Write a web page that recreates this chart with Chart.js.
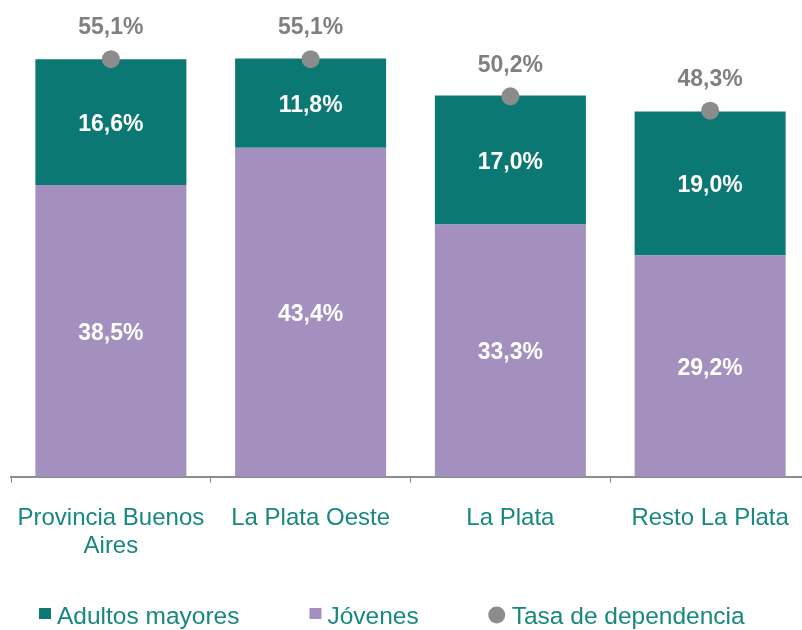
<!DOCTYPE html>
<html>
<head>
<meta charset="utf-8">
<script src="https://cdn.jsdelivr.net/npm/chart.js@4.4.1/dist/chart.umd.min.js"></script>
<style>
  html, body { margin: 0; padding: 0; background: #fff; overflow: hidden; }
  #wrap { width: 810px; height: 630px; position: relative; }
</style>
</head>
<body>
<div id="wrap"><canvas id="chart"></canvas></div>
<script>
var categorias = [['Provincia Buenos', 'Aires'], 'La Plata Oeste', 'La Plata', 'Resto La Plata'];
var jovenes = [38.5, 43.4, 33.3, 29.2];
var adultosMayores = [16.6, 11.8, 17.0, 19.0];
var tasaDependencia = [55.1, 55.1, 50.2, 48.3];

var TEAL = '#0B7873';
var PURPLE = '#A390BE';
var GRAY = '#8C8C8C';
var TEXT_TEAL = '#16887F';
var FONT = '"Liberation Sans", Arial, sans-serif';

function fmt(v) {
    return v.toFixed(1).replace('.', ',') + '%';
}

// etiquetas de valores sobre las barras y los puntos
var labelPlugin = {
    id: 'valueLabels',
    afterDatasetsDraw: function(chart) {
        var ctx = chart.ctx;
        ctx.save();
        ctx.font = 'bold 23px ' + FONT;
        ctx.textAlign = 'center';
        ctx.textBaseline = 'middle';
        chart.data.datasets.forEach(function(ds, i) {
            var meta = chart.getDatasetMeta(i);
            meta.data.forEach(function(el, j) {
                var v = ds.data[j];
                if (ds.type === 'line') {
                    ctx.fillStyle = '#808080';
                    ctx.fillText(fmt(v), el.x, el.y - 31);
                } else {
                    ctx.fillStyle = '#ffffff';
                    ctx.fillText(fmt(v), el.x, (el.y + el.base) / 2 + 2.5);
                }
            });
        });
        ctx.restore();
    }
};

// leyenda abajo, con el orden y espaciado del original
var legendPlugin = {
    id: 'bottomLegend',
    afterDraw: function(chart) {
        var ctx = chart.ctx;
        var ds = chart.data.datasets;
        var order = [1, 0, 2];
        var x = 39;
        var y = 617;
        ctx.save();
        ctx.font = '24.5px ' + FONT;
        ctx.textBaseline = 'middle';
        ctx.textAlign = 'left';
        order.forEach(function(idx) {
            var d = ds[idx];
            ctx.fillStyle = d.type === 'line' ? d.pointBackgroundColor : d.backgroundColor;
            if (d.type === 'line') {
                ctx.beginPath();
                ctx.arc(x + 8, y - 2, 8.5, 0, Math.PI * 2);
                ctx.fill();
                x += 17;
            } else {
                ctx.fillRect(x, y - 9, 12, 11);
                x += 12;
            }
            x += 6;
            ctx.fillStyle = TEXT_TEAL;
            ctx.fillText(d.label, x, y);
            x += ctx.measureText(d.label).width + 70;
        });
        ctx.restore();
    }
};

new Chart(document.getElementById('chart').getContext('2d'), {
    type: 'bar',
    data: {
        labels: categorias,
        datasets: [{
            label: 'Jóvenes',
            data: jovenes,
            backgroundColor: PURPLE,
            borderWidth: 0,
            stack: 'pob'
        }, {
            label: 'Adultos mayores',
            data: adultosMayores,
            backgroundColor: TEAL,
            borderWidth: 0,
            stack: 'pob'
        }, {
            type: 'line',
            label: 'Tasa de dependencia',
            data: tasaDependencia,
            showLine: false,
            borderColor: GRAY,
            backgroundColor: GRAY,
            pointBackgroundColor: GRAY,
            pointBorderWidth: 0,
            pointRadius: 9,
            pointHoverRadius: 9,
            stack: 'tasa',
            order: -1
        }]
    },
    options: {
        responsive: true,
        maintainAspectRatio: false,
        animation: false,
        events: [],
        datasets: {
            bar: { barPercentage: 0.756, categoryPercentage: 1.0 }
        },
        layout: {
            autoPadding: false,
            padding: { top: 22, left: 11, right: 0, bottom: 48 }
        },
        scales: {
            x: {
                stacked: true,
                offset: true,
                grid: {
                    offset: true,
                    drawOnChartArea: false,
                    drawTicks: true,
                    tickLength: 6,
                    color: GRAY
                },
                border: { display: true, color: GRAY, width: 2 },
                ticks: {
                    color: TEXT_TEAL,
                    padding: 22,
                    maxRotation: 0,
                    autoSkip: false,
                    font: { family: FONT, size: 24, lineHeight: 1.15 }
                },
                afterFit: function(scale) {
                    scale.paddingLeft = 0;
                    scale.paddingRight = 0;
                }
            },
            y: {
                display: false,
                stacked: true,
                min: 0,
                max: 60
            }
        },
        plugins: {
            tooltip: { enabled: false },
            legend: { display: false }
        }
    },
    plugins: [labelPlugin, legendPlugin]
});
</script>
</body>
</html>
